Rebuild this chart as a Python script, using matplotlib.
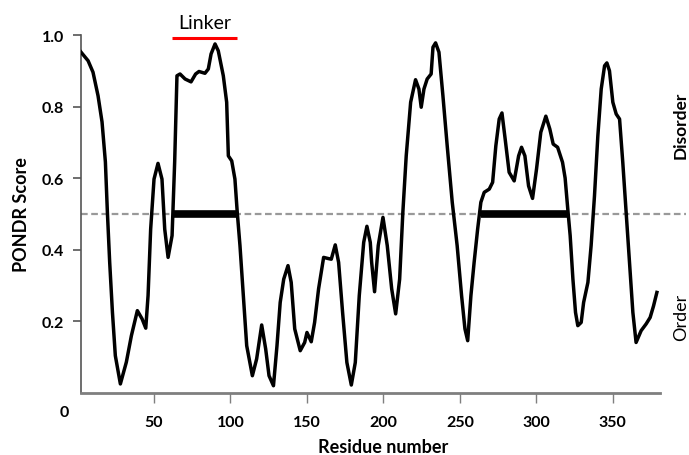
import matplotlib.pyplot as plt

# PONDR score (residue, score)
residue = [2.1, 6.9, 10.1, 13.4, 16, 18.2, 19.5, 21, 22.8, 24.7, 28, 31.9, 35.2,
           39.1, 42.2, 44.6, 46.1, 47.8, 50, 52.6, 55.2, 57, 59.2, 61.8, 63.5, 65,
           67, 70.3, 74.2, 77.2, 79.4, 83.3, 85.5, 87.3, 89.9, 92, 95.3, 97.5, 98.6,
           100.8, 102.9, 104.4, 106.2, 108.4, 110.6, 114.3, 117.1, 120.4, 123, 125.2,
           128.1, 130.4, 132.5, 134.8, 137.6, 139.7, 142, 145.6, 148.5, 150, 152.8,
           155, 157.6, 160.9, 163.7, 165.9, 168.5, 170.7, 173.3, 176.1, 179, 181.6,
           184.2, 187.1, 189.2, 191.4, 192.3, 194.2, 196.6, 199.7, 202.5, 205.4, 208,
           210.6, 212.7, 214.9, 217.8, 221, 223.2, 224.7, 226.5, 228.6, 231.2, 232.4,
           234.1, 236.3, 238.9, 241.7, 245, 248.2, 251.1, 253.3, 255.1, 257.2, 259.3,
           261.6, 263.7, 265.9, 269.2, 271.4, 273.5, 275.7, 277.5, 279.6, 282.2, 285.5,
           288.4, 290.3, 292.5, 294.9, 297.5, 300.1, 302.9, 306.2, 308.8, 311, 313.9,
           317.1, 318.8, 320.6, 322.1, 323.9, 325.6, 327.1, 329.3, 330.9, 333.7, 335.8,
           338, 340.2, 342.4, 344.6, 346.1, 347.8, 350, 352.2, 354.4, 356.5, 358.7,
           360.9, 363.1, 365.2, 368.5, 371.8, 374.4, 376.6, 378.8]
score = [0.953, 0.928, 0.896, 0.83, 0.757, 0.645, 0.505, 0.365, 0.225, 0.103, 0.024,
         0.085, 0.159, 0.229, 0.206, 0.18, 0.271, 0.457, 0.597, 0.641, 0.597, 0.457,
         0.378, 0.439, 0.645, 0.886, 0.891, 0.877, 0.869, 0.891, 0.898, 0.893, 0.905,
         0.947, 0.975, 0.956, 0.886, 0.812, 0.662, 0.648, 0.597, 0.505, 0.411, 0.271,
         0.131, 0.047, 0.094, 0.189, 0.122, 0.047, 0.019, 0.131, 0.252, 0.317, 0.355,
         0.308, 0.178, 0.117, 0.14, 0.168, 0.142, 0.196, 0.29, 0.378, 0.375, 0.373,
         0.413, 0.364, 0.224, 0.084, 0.021, 0.084, 0.271, 0.42, 0.465, 0.42, 0.364,
         0.282, 0.411, 0.49, 0.411, 0.29, 0.22, 0.317, 0.504, 0.662, 0.812, 0.875,
         0.849, 0.798, 0.849, 0.877, 0.891, 0.966, 0.978, 0.952, 0.83, 0.69, 0.532,
         0.411, 0.271, 0.178, 0.145, 0.271, 0.364, 0.457, 0.532, 0.56, 0.569, 0.588,
         0.69, 0.765, 0.782, 0.709, 0.616, 0.592, 0.662, 0.686, 0.662, 0.578, 0.543,
         0.625, 0.728, 0.773, 0.737, 0.695, 0.686, 0.644, 0.6, 0.51, 0.439, 0.317,
         0.224, 0.187, 0.196, 0.252, 0.308, 0.411, 0.55, 0.718, 0.849, 0.914, 0.922,
         0.9, 0.812, 0.779, 0.765, 0.644, 0.504, 0.364, 0.224, 0.14, 0.173, 0.192,
         0.21, 0.242, 0.28]

# disordered regions (thick bars on the 0.5 line) and linker
regions = [(62.4, 104.0), (264.0, 320.6)]
linker = (61.8, 104.2)

xticks = [50, 100, 150, 200, 250, 300, 350]
yticks = [0.2, 0.4, 0.6, 0.8, 1.0]

plt.rcParams['font.family'] = ['Lato', 'DejaVu Sans']

fig = plt.figure(figsize=(6.89, 4.56), dpi=100)
ax = fig.add_axes([0.117, 0.137, 0.879, 0.784])

ax.axhline(0.5, color='#999999', lw=1.6, ls=(0, (3, 1.6)), zorder=1)
for a, b in regions:
    ax.plot([a, b], [0.5, 0.5], color='black', lw=5.5, solid_capstyle='butt', zorder=2)
ax.plot(residue, score, color='black', lw=2.5, solid_joinstyle='round', zorder=3)

ax.plot(linker, [0.993, 0.993], color='red', lw=2.2, clip_on=False, solid_capstyle='butt')
ax.text(sum(linker) / 2, 1.01, 'Linker', ha='center', va='bottom', fontsize=14,
        transform=ax.transData)

ax.set_xlim(2, 398)
ax.set_ylim(0, 1.0)
ax.spines['top'].set_visible(False)
ax.spines['right'].set_visible(False)
ax.spines['bottom'].set_bounds(2, 381)
ax.spines['bottom'].set_color('#7f7f7f')
ax.spines['bottom'].set_linewidth(2.0)
ax.spines['left'].set_color('#555555')
ax.spines['left'].set_linewidth(1.2)

ax.set_xticks(xticks)
ax.set_xticklabels([str(t) for t in xticks])
ax.set_yticks(yticks)
ax.set_yticklabels(['%.1f' % t for t in yticks])
ax.tick_params(axis='x', direction='out', length=7, width=1, color='#7f7f7f', pad=9,
               labelsize=11.5)
ax.tick_params(axis='y', direction='out', length=6, width=1.2, color='#555555', pad=6,
               labelsize=11.5)
for lab in ax.get_xticklabels() + ax.get_yticklabels():
    lab.set_fontweight('bold')

fig.text(64 / 689, 1 - 413 / 456, '0', ha='center', va='center', fontsize=11.5,
         fontweight='bold')

ax.set_xlabel('Residue number', fontsize=13, fontweight='bold', labelpad=7)
ax.set_ylabel('PONDR Score', fontsize=13, fontweight='bold', labelpad=8)

fig.text(681 / 689, 1 - 125 / 456, 'Disorder', rotation=90, ha='center', va='center',
         fontsize=12.5, fontweight='bold')
fig.text(681 / 689, 1 - 317 / 456, 'Order', rotation=90, ha='center', va='center',
         fontsize=13)

plt.savefig('out.png', dpi=100)
